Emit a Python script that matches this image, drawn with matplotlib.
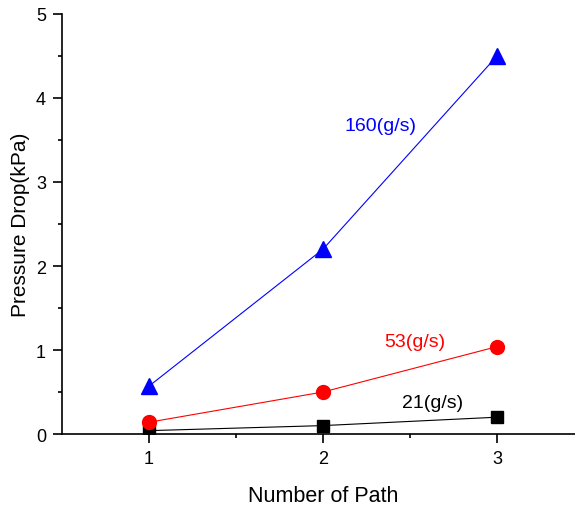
import matplotlib.pyplot as plt

plt.rcParams['font.family'] = ['Liberation Sans', 'DejaVu Sans']

paths = [1, 2, 3]
flow_160 = [0.57, 2.2, 4.5]
flow_53 = [0.14, 0.5, 1.04]
flow_21 = [0.04, 0.1, 0.2]

fig = plt.figure(figsize=(5.75, 5.06), dpi=100)
ax = fig.add_axes([62 / 575, 1 - 435 / 506, 522 / 575, 420 / 506])

ax.plot(paths, flow_21, color='black', lw=0.8, marker='s', ms=9)
ax.plot(paths, flow_53, color='red', lw=0.8, marker='o', ms=10)
ax.plot(paths, flow_160, color='blue', lw=0.8, marker='^', ms=11)

ax.text(2.33, 3.67, '160(g/s)', color='blue', fontsize=14, ha='center', va='center')
ax.text(2.53, 1.10, '53(g/s)', color='red', fontsize=14, ha='center', va='center')
ax.text(2.63, 0.37, '21(g/s)', color='black', fontsize=14, ha='center', va='center')

ax.set_xlim(0.5, 3.5)
ax.set_ylim(0, 5)
ax.set_xticks([1, 2, 3])
ax.set_xticks([1.5, 2.5], minor=True)
ax.set_yticks([0, 1, 2, 3, 4, 5])
ax.set_yticks([0.5, 1.5, 2.5, 3.5, 4.5], minor=True)
ax.tick_params(which='major', direction='out', length=6.5, width=1.2, labelsize=13, pad=5)
ax.tick_params(which='minor', direction='out', length=3, width=1.2)
ax.spines['top'].set_visible(False)
ax.spines['right'].set_visible(False)
ax.spines['left'].set_linewidth(1.2)
ax.spines['bottom'].set_linewidth(1.2)
ax.set_xlabel('Number of Path', fontsize=15.5, labelpad=13)
ax.set_ylabel('Pressure Drop(kPa)', fontsize=15, labelpad=4)

fig.savefig('out.png', dpi=100)
